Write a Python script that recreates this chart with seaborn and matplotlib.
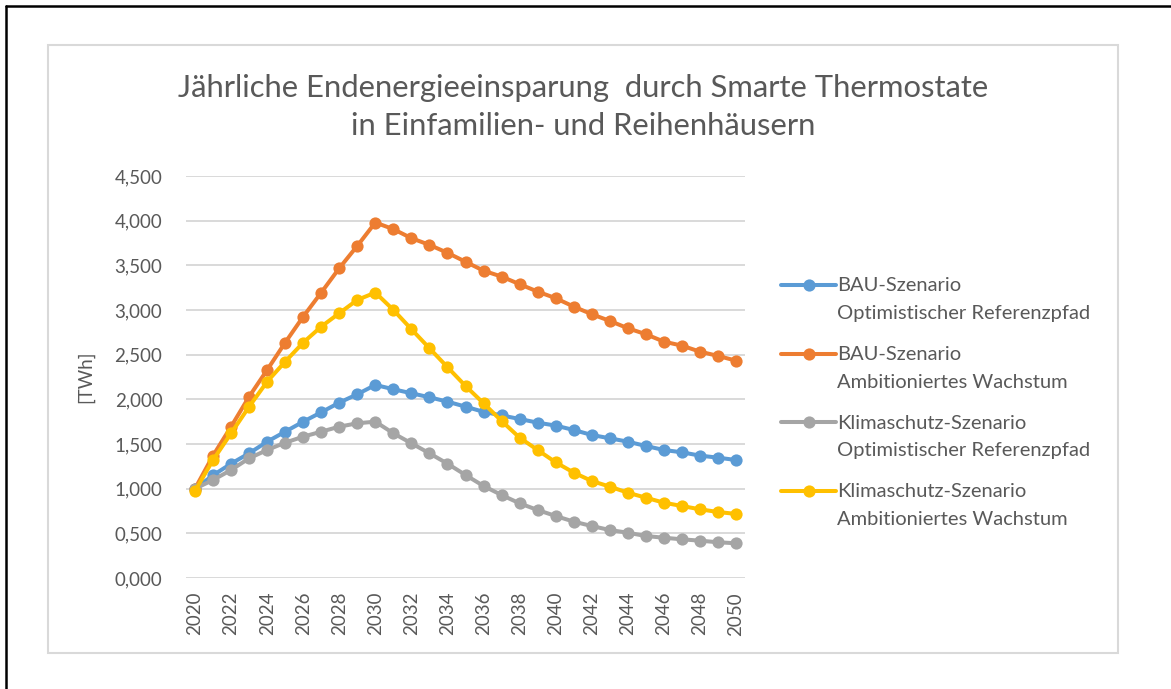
import numpy as np
import pandas as pd
import matplotlib
matplotlib.use("Agg")
import matplotlib.pyplot as plt
from matplotlib.lines import Line2D
from matplotlib.patches import Rectangle
from matplotlib.legend_handler import HandlerLine2D
from matplotlib.ticker import FuncFormatter, MultipleLocator
import seaborn as sns

# Daten (TWh)
years = list(range(2020, 2051))

bau_opt = [1.000, 1.150, 1.280, 1.396, 1.526, 1.638, 1.750, 1.855, 1.963, 2.057,
           2.161, 2.113, 2.068, 2.023, 1.974, 1.918, 1.860, 1.820, 1.780, 1.739,
           1.706, 1.657, 1.601, 1.564, 1.526, 1.478, 1.433, 1.407, 1.370, 1.347,
           1.321]
bau_amb = [1.000, 1.370, 1.694, 2.030, 2.329, 2.635, 2.926, 3.195, 3.468, 3.718,
           3.979, 3.905, 3.804, 3.729, 3.640, 3.540, 3.440, 3.374, 3.289, 3.206,
           3.132, 3.038, 2.953, 2.878, 2.796, 2.729, 2.646, 2.601, 2.534, 2.486,
           2.433]
ks_opt = [1.000, 1.097, 1.209, 1.340, 1.433, 1.515, 1.582, 1.638, 1.694, 1.732,
          1.750, 1.620, 1.508, 1.396, 1.280, 1.153, 1.030, 0.929, 0.836, 0.761,
          0.694, 0.631, 0.582, 0.537, 0.507, 0.470, 0.451, 0.433, 0.418, 0.400,
          0.389]
ks_amb = [0.975, 1.321, 1.620, 1.918, 2.198, 2.422, 2.635, 2.814, 2.964, 3.113,
          3.195, 3.001, 2.785, 2.572, 2.360, 2.150, 1.956, 1.758, 1.571, 1.433,
          1.295, 1.180, 1.086, 1.023, 0.955, 0.899, 0.843, 0.806, 0.769, 0.739,
          0.717]

series_labels = [
    "BAU-Szenario\nOptimistischer Referenzpfad",
    "BAU-Szenario\nAmbitioniertes Wachstum",
    "Klimaschutz-Szenario\nOptimistischer Referenzpfad",
    "Klimaschutz-Szenario\nAmbitioniertes Wachstum",
]
colors = ["#5B9BD5", "#ED7D31", "#A5A5A5", "#FFC000"]
title = "Jährliche Endenergieeinsparung  durch Smarte Thermostate\nin Einfamilien- und Reihenhäusern"

sns.set_style("white")
plt.rcParams["font.family"] = ["Lato", "DejaVu Sans"]
text_col = "#595959"


class FirstLineHandler(HandlerLine2D):
    """Legendensymbol auf Höhe der ersten Textzeile setzen"""
    def create_artists(self, legend, orig_handle, xdescent, ydescent, width,
                       height, fontsize, trans):
        arts = super().create_artists(legend, orig_handle, xdescent, ydescent,
                                      width, height, fontsize, trans)
        for a in arts:
            a.set_ydata(np.asarray(a.get_ydata()) + 10.5)
        return arts


df = pd.DataFrame({
    "Jahr": years * 4,
    "Wert": bau_opt + bau_amb + ks_opt + ks_amb,
    "Szenario": sum([[lab] * len(years) for lab in series_labels], []),
})

fig = plt.figure(figsize=(11.71, 6.89), dpi=100)
W, H = 1171, 689
ax = fig.add_axes([186 / W, 1 - 578 / H, (745 - 186) / W, (578 - 176) / H])

sns.lineplot(data=df, x="Jahr", y="Wert", hue="Szenario", hue_order=series_labels,
             palette=colors, marker="o", markersize=8.8, markeredgewidth=0,
             linewidth=2.9, ax=ax, legend=False)

ax.set_xlim(2019.5, 2050.5)
ax.set_ylim(0, 4.5)
ax.yaxis.set_major_locator(MultipleLocator(0.5))
ax.yaxis.set_major_formatter(FuncFormatter(lambda v, p: f"{v:.3f}".replace(".", ",")))
ax.set_xticks(years[::2])
ax.tick_params(axis="x", rotation=90, labelsize=13.5, colors=text_col, length=0, pad=10)
ax.tick_params(axis="y", labelsize=13.5, colors=text_col, length=0, pad=17)
ax.grid(axis="y", color="#D9D9D9", linewidth=1.4)
ax.set_axisbelow(True)
for s in ax.spines.values():
    s.set_visible(False)
ax.set_xlabel("")
ax.set_ylabel("[TWh]", fontsize=13.5, color=text_col)
ax.yaxis.set_label_coords((94 - 186) / 559, 0.5)

fig.text(583 / W, 1 - 107 / H, title, ha="center", va="center", fontsize=22.3,
         color=text_col, linespacing=1.42)

# Legende
handles = [Line2D([], [], color=c, linewidth=2.9, marker="o", markersize=8.8,
                  markeredgewidth=0) for c in colors]
leg = fig.legend(handles, series_labels, loc="upper left",
                 bbox_to_anchor=(771 / W, 1 - 267 / H), frameon=False,
                 fontsize=14.5, labelcolor=text_col, handlelength=2.75,
                 handletextpad=0.05, labelspacing=1.2, borderpad=0,
                 handler_map={Line2D: FirstLineHandler()})
for t in leg.get_texts():
    t.set_linespacing(1.76)

# Rahmen
fig.patches.append(Rectangle((48 / W, 1 - 653 / H), (1118 - 48) / W, (653 - 45) / H,
                             transform=fig.transFigure, fill=False,
                             edgecolor="#D9D9D9", linewidth=1.5))
fig.lines.append(Line2D([6 / W, 6 / W], [0, 1 - 6 / H], transform=fig.transFigure,
                        color="black", linewidth=1.8))
fig.lines.append(Line2D([6 / W, 1], [1 - 6 / H, 1 - 6 / H], transform=fig.transFigure,
                        color="black", linewidth=1.8))

fig.savefig("out.png", dpi=100, facecolor="white")
